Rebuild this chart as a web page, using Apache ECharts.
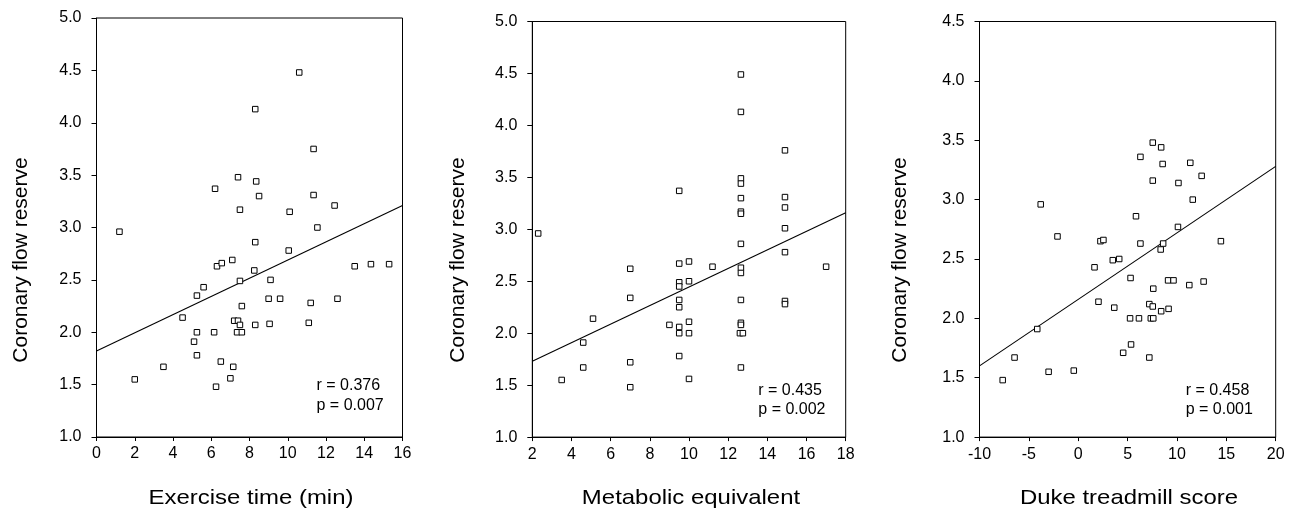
<!DOCTYPE html>
<html>
<head>
<meta charset="utf-8">
<script src="https://cdn.jsdelivr.net/npm/echarts@6/dist/echarts.min.js"></script>
<style>
html,body{margin:0;padding:0;background:#fff;}
#chart{width:1295px;height:511px;}
</style>
</head>
<body>
<div id="chart"></div>
<script>
// ---- Data ----
const yTitle = 'Coronary flow reserve';
const xTitles = ['Exercise time (min)', 'Metabolic equivalent', 'Duke treadmill score'];
const statsText = [['r = 0.376', 'p = 0.007'], ['r = 0.435', 'p = 0.002'], ['r = 0.458', 'p = 0.001']];

const exTimeX = [10.6, 8.3, 11.35, 7.4, 8.35, 6.2, 8.5, 11.35, 7.5, 10.1, 12.45, 11.55, 1.2, 8.3, 10.05, 6.3, 6.55, 7.1, 8.25, 7.5, 9.1, 13.5, 14.35, 15.3, 5.6, 5.25, 9.0, 9.6, 11.2, 12.6, 7.6, 4.5, 7.2, 7.4, 7.5, 8.3, 9.05, 11.1, 5.25, 6.15, 7.35, 7.6, 5.1, 5.25, 3.5, 6.5, 7.15, 2.0, 7.0, 6.25];
const exTimeY = [4.48, 4.13, 3.75, 3.48, 3.44, 3.37, 3.30, 3.31, 3.17, 3.15, 3.21, 3.00, 2.96, 2.86, 2.78, 2.63, 2.66, 2.69, 2.59, 2.49, 2.50, 2.63, 2.65, 2.65, 2.43, 2.35, 2.32, 2.32, 2.28, 2.32, 2.25, 2.14, 2.11, 2.11, 2.07, 2.07, 2.08, 2.09, 2.00, 2.00, 2.00, 2.00, 1.91, 1.78, 1.67, 1.72, 1.67, 1.55, 1.56, 1.48];
const exTimeFitX = [0, 16];
const exTimeFitY = [1.82, 3.21];

const metX = [12.65, 12.65, 14.9, 9.5, 12.65, 12.65, 12.65, 12.65, 12.65, 14.9, 14.9, 14.9, 2.3, 12.65, 14.9, 7.0, 9.5, 10.0, 11.2, 12.65, 12.65, 17.0, 9.5, 9.5, 10.0, 7.0, 9.5, 9.5, 12.65, 14.9, 14.9, 5.1, 9.0, 9.5, 10.0, 9.5, 10.0, 12.65, 12.65, 12.6, 12.75, 4.6, 9.5, 4.6, 7.0, 12.65, 3.5, 7.0, 10.0];
const metY = [4.49, 4.13, 3.76, 3.37, 3.49, 3.44, 3.30, 3.17, 3.15, 3.31, 3.21, 3.01, 2.96, 2.86, 2.78, 2.62, 2.67, 2.69, 2.64, 2.63, 2.58, 2.64, 2.49, 2.45, 2.50, 2.34, 2.32, 2.25, 2.32, 2.31, 2.28, 2.14, 2.08, 2.06, 2.11, 2.00, 2.00, 2.10, 2.08, 2.00, 2.00, 1.91, 1.78, 1.67, 1.72, 1.67, 1.55, 1.48, 1.56];
const metFitX = [2, 18];
const metFitY = [1.73, 3.16];

const dukeX = [-3.8, 5.85, 6.3, 7.55, 8.4, 8.55, 7.55, 10.15, 11.35, 12.5, 11.6, 10.1, -7.65, -6.45, -4.15, -3.0, -2.1, -0.45, 1.65, 2.25, 2.55, 2.05, 3.5, 4.15, 3.65, 4.55, 5.3, 5.25, 5.35, 6.15, 6.3, 7.2, 7.55, 7.35, 7.6, 7.2, 7.6, 8.35, 8.6, 8.4, 9.1, 9.65, 9.15, 11.25, 12.7, 14.45];
const dukeY = [2.96, 2.86, 3.36, 3.48, 3.44, 3.30, 3.16, 3.14, 3.31, 3.20, 3.00, 2.77, 1.48, 1.67, 1.91, 1.55, 2.69, 1.56, 2.43, 2.65, 2.66, 2.14, 2.49, 2.50, 2.09, 1.71, 2.34, 2.00, 1.78, 2.00, 2.63, 2.12, 2.10, 2.00, 2.00, 1.67, 2.25, 2.58, 2.63, 2.06, 2.32, 2.32, 2.08, 2.28, 2.31, 2.65];
const dukeFitX = [-10, 20];
const dukeFitY = [1.60, 3.28];

const xRanges = [[0, 16, 2], [2, 18, 2], [-10, 20, 5]];
const yRanges = [[1, 5, 0.5], [1, 5, 0.5], [1, 4.5, 0.5]];

// ---- Build ----
const FONT = 'Liberation Sans, Arial, Helvetica, sans-serif';
const zip = (a, b) => a.map((v, i) => [v, b[i]]);
const panels = [
  { pts: zip(exTimeX, exTimeY), fit: zip(exTimeFitX, exTimeFitY) },
  { pts: zip(metX, metY), fit: zip(metFitX, metFitY) },
  { pts: zip(dukeX, dukeY), fit: zip(dukeFitX, dukeFitY) }
];
const grids = [
  { left: 96.5, top: 18, width: 306, height: 419 },
  { left: 532.3, top: 21.5, width: 313.4, height: 415.6 },
  { left: 979.5, top: 21.5, width: 296.2, height: 415.6 }
];
const yTitlePos = [[21.5, 260], [458, 260], [900.5, 260]];
const xTitlePos = [[251, 498], [691, 498], [1129, 498]];
const statsPos = [[316.5, 376], [758.3, 380.5], [1185.7, 380.5]];

const graphics = [];
statsText.forEach((t, i) => graphics.push({
  type: 'text', left: statsPos[i][0], top: statsPos[i][1], silent: true,
  style: { text: t.join('\n'), font: '16px ' + FONT, fill: '#000', lineHeight: 19.5 }
}));
yTitlePos.forEach(p => graphics.push({
  type: 'text', x: p[0], y: p[1], rotation: Math.PI / 2, silent: true,
  style: { text: yTitle, font: '21px ' + FONT, fill: '#000', align: 'center', verticalAlign: 'middle' }
}));
xTitlePos.forEach((p, i) => graphics.push({
  type: 'text', x: p[0], y: p[1], scaleX: 1.14, silent: true,
  style: { text: xTitles[i], font: '21px ' + FONT, fill: '#000', align: 'center', verticalAlign: 'middle' }
}));

const option = {
  animation: false,
  backgroundColor: '#fff',
  textStyle: { fontFamily: FONT },
  grid: grids.map(g => Object.assign({ show: true, borderColor: '#000', borderWidth: 1, backgroundColor: 'transparent', containLabel: false }, g)),
  xAxis: xRanges.map((r, i) => ({
    type: 'value', gridIndex: i, min: r[0], max: r[1], interval: r[2],
    axisLine: { show: true, onZero: false, lineStyle: { color: '#000', width: 1 } },
    axisTick: { show: true, inside: false, length: 4, lineStyle: { color: '#000' } },
    axisLabel: { show: true, color: '#000', fontSize: 16, fontFamily: FONT, margin: 9, showMinLabel: true, showMaxLabel: true },
    splitLine: { show: false }
  })),
  yAxis: yRanges.map((r, i) => ({
    type: 'value', gridIndex: i, min: r[0], max: r[1], interval: r[2],
    axisLine: { show: true, onZero: false, lineStyle: { color: '#000', width: 1 } },
    axisTick: { show: true, inside: false, length: 5, lineStyle: { color: '#000' } },
    axisLabel: { show: true, color: '#000', fontSize: 16, fontFamily: FONT, margin: 15, showMinLabel: true, showMaxLabel: true,
      formatter: v => v.toFixed(1) },
    splitLine: { show: false }
  })),
  graphic: graphics,
  series: []
};
panels.forEach((p, i) => {
  option.series.push({
    type: 'line', xAxisIndex: i, yAxisIndex: i, data: p.fit, symbol: 'none', silent: true,
    lineStyle: { color: '#000', width: 1.1 }, z: 2
  });
  option.series.push({
    type: 'scatter', xAxisIndex: i, yAxisIndex: i, data: p.pts, symbol: 'rect', symbolSize: 5.5,
    itemStyle: { color: '#fff', borderColor: '#000', borderWidth: 1, opacity: 1 }, z: 3
  });
});

const chart = echarts.init(document.getElementById('chart'), null, { renderer: 'canvas' });
chart.setOption(option);
</script>
</body>
</html>
